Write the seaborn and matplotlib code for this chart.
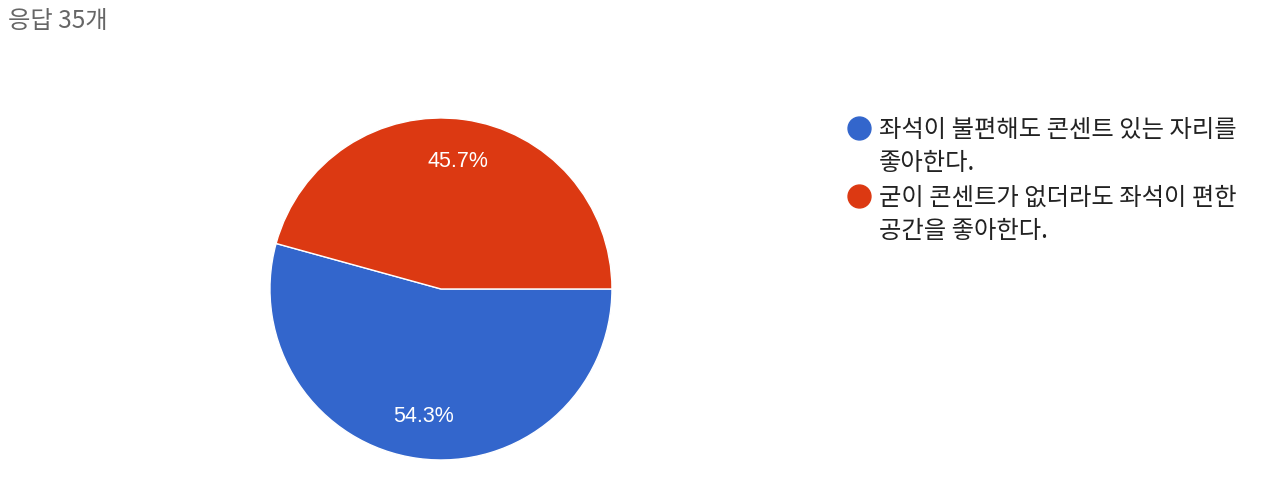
import matplotlib.pyplot as plt
import seaborn as sns
from matplotlib.lines import Line2D

# Survey responses (35 total)
labels = ['좌석이 불편해도 콘센트 있는 자리를\n좋아한다.',
          '굳이 콘센트가 없더라도 좌석이 편한\n공간을 좋아한다.']
counts = [19, 16]
colours = ['#3366cc', '#dc3912']
title = '응답 35개'

sns.set_theme(style='white')
plt.rcParams['font.family'] = ['Noto Sans CJK KR', 'DejaVu Sans']

fig = plt.figure(figsize=(12.8, 4.79), dpi=100)
ax = fig.add_axes([0.2109, 0.0397, 0.2672, 0.714])

wedges, texts, autotexts = ax.pie(
    counts, colors=colours, startangle=0, counterclock=False,
    autopct='%1.1f%%', pctdistance=0.75,
    wedgeprops=dict(edgecolor='white', linewidth=1))
for t in autotexts:
    t.set_color('white')
    t.set_fontsize(15.5)
    t.set_family(['Liberation Sans', 'DejaVu Sans'])
ax.set_xlim(-1, 1)
ax.set_ylim(-1, 1)
ax.set_aspect('equal')

fig.text(8 / 1280, 1 - 21 / 479, title, fontsize=17.5, color='#666666',
         va='center', ha='left')

# legend drawn by hand so the marker sits on the first text line
y_px = [128, 196]
for lab, col, y in zip(labels, colours, y_px):
    fig.add_artist(Line2D([859 / 1280], [1 - y / 479], marker='o',
                          markersize=16.5, color=col, transform=fig.transFigure))
    fig.text(879 / 1280, 1 - (y - 11) / 479, lab, fontsize=17.5,
             color='#222222', va='top', ha='left', linespacing=1.36)

fig.savefig('out.png', dpi=100)
